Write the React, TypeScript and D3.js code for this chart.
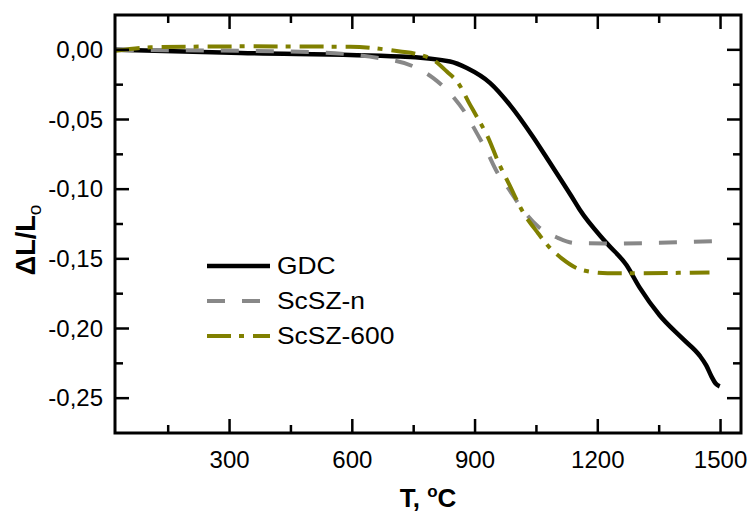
import React from "react";
import * as d3 from "d3";

// GDC (black, solid)
const gdcTemp = [22, 327, 717, 839, 880, 937, 985, 1041, 1083, 1136, 1156, 1221, 1270, 1302, 1351, 1408, 1449, 1465, 1478, 1488, 1498];
const gdcDL = [0, -0.0022, -0.0048, -0.0084, -0.0131, -0.0239, -0.0395, -0.0622, -0.0811, -0.1053, -0.1148, -0.1385, -0.1545, -0.1705, -0.1905, -0.2075, -0.2195, -0.2265, -0.2345, -0.2395, -0.2415];

// ScSZ-n (grey, dashed)
const scszNTemp = [22, 473, 668, 758, 798, 846, 876, 904, 929, 953, 981, 1017, 1054, 1102, 1144, 1237, 1351, 1498];
const scszNDL = [0, -0.0014, -0.006, -0.0131, -0.0203, -0.0335, -0.0452, -0.0596, -0.073, -0.0873, -0.0993, -0.1148, -0.1268, -0.1349, -0.1387, -0.139, -0.1385, -0.1371];

// ScSZ-600 (olive, dash-dot)
const scsz600Temp = [22, 107, 351, 595, 717, 758, 798, 831, 859, 888, 904, 932, 956, 985, 1014, 1054, 1080, 1111, 1160, 1224, 1278, 1473];
const scsz600DL = [-0.0007, 0.0018, 0.0025, 0.0022, -0.0012, -0.0031, -0.0072, -0.0156, -0.0239, -0.0395, -0.0479, -0.063, -0.08, -0.0975, -0.1148, -0.1316, -0.1412, -0.1495, -0.1579, -0.1603, -0.1603, -0.1598];

const xTicks = [300, 600, 900, 1200, 1500];
const xMinor = [150, 450, 750, 1050, 1350];
const yTicks = [0, -0.05, -0.1, -0.15, -0.2, -0.25];
const yMinor = [-0.025, -0.075, -0.125, -0.175, -0.225];

const series = [
  { name: "GDC", t: gdcTemp, v: gdcDL, color: "#000000", width: 4.5, dash: "" },
  { name: "ScSZ-n", t: scszNTemp, v: scszNDL, color: "#888888", width: 4, dash: "18,17" },
  { name: "ScSZ-600", t: scsz600Temp, v: scsz600DL, color: "#808000", width: 4, dash: "24,8,5,9" },
];

const left = 115, right = 741, top = 15, bottom = 433;
const font = "Arial, 'Liberation Sans', sans-serif";

export default function App() {
  const x = d3.scaleLinear().domain([20, 1550]).range([left, right]);
  const y = d3.scaleLinear().domain([-0.275, 0.025]).range([bottom, top]);
  const line = d3
    .line<[number, number]>()
    .x((d) => x(d[0]))
    .y((d) => y(d[1]))
    .curve(d3.curveMonotoneX);
  const fmt = (v: number) => d3.format(".2f")(v).replace(".", ",").replace("−", "-");

  return (
    <svg width={753} height={513} style={{ position: "absolute", left: 0, top: 0, background: "#fff" }}>
      <defs>
        <clipPath id="plot">
          <rect x={left} y={top} width={right - left} height={bottom - top} />
        </clipPath>
      </defs>

      <g clipPath="url(#plot)">
        {series.map((s) => (
          <path
            key={s.name}
            d={line(s.t.map((t, i) => [t, s.v[i]] as [number, number])) || ""}
            fill="none"
            stroke={s.color}
            strokeWidth={s.width}
            strokeDasharray={s.dash || undefined}
            strokeLinejoin="round"
          />
        ))}
      </g>

      {/* ticks, all inward on four sides */}
      <g stroke="#000" strokeWidth={2.5}>
        {xTicks.map((t) => (
          <g key={t}>
            <line x1={x(t)} x2={x(t)} y1={bottom} y2={bottom - 14} />
            <line x1={x(t)} x2={x(t)} y1={top} y2={top + 14} />
          </g>
        ))}
        {xMinor.map((t) => (
          <g key={t}>
            <line x1={x(t)} x2={x(t)} y1={bottom} y2={bottom - 8} />
            <line x1={x(t)} x2={x(t)} y1={top} y2={top + 8} />
          </g>
        ))}
        {yTicks.map((t) => (
          <g key={t}>
            <line x1={left} x2={left + 14} y1={y(t)} y2={y(t)} />
            <line x1={right} x2={right - 14} y1={y(t)} y2={y(t)} />
          </g>
        ))}
        {yMinor.map((t) => (
          <g key={t}>
            <line x1={left} x2={left + 8} y1={y(t)} y2={y(t)} />
            <line x1={right} x2={right - 8} y1={y(t)} y2={y(t)} />
          </g>
        ))}
      </g>

      <rect x={left} y={top} width={right - left} height={bottom - top} fill="none" stroke="#000" strokeWidth={3} />

      <g fontFamily={font} fontSize={24} fill="#000">
        {xTicks.map((t) => (
          <text key={t} x={x(t)} y={468} textAnchor="middle">{t}</text>
        ))}
        {yTicks.map((t) => (
          <text key={t} x={103} y={y(t) + 8} textAnchor="end">{fmt(t)}</text>
        ))}
      </g>

      <text x={(left + right) / 2} y={507} textAnchor="middle" fontFamily={font} fontSize={26} fontWeight="bold">
        T, <tspan dy={-10} fontSize={17}>o</tspan><tspan dy={10}>C</tspan>
      </text>

      <text
        transform="translate(35,240) rotate(-90)"
        textAnchor="middle"
        fontFamily={font}
        fontSize={27}
        fontWeight="bold"
      >
        ΔL/L<tspan dy={6} fontSize={19} fontWeight="normal">o</tspan>
      </text>

      {/* legend */}
      <g fontFamily={font} fontSize={24}>
        {series.map((s, i) => {
          const ly = 266 + i * 35;
          return (
            <g key={s.name}>
              <line x1={207} x2={270} y1={ly} y2={ly} stroke={s.color} strokeWidth={s.width} strokeDasharray={s.dash || undefined} />
              <text transform={`translate(277,${ly + 8}) scale(1.1,1)`}>{s.name}</text>
            </g>
          );
        })}
      </g>
    </svg>
  );
}
